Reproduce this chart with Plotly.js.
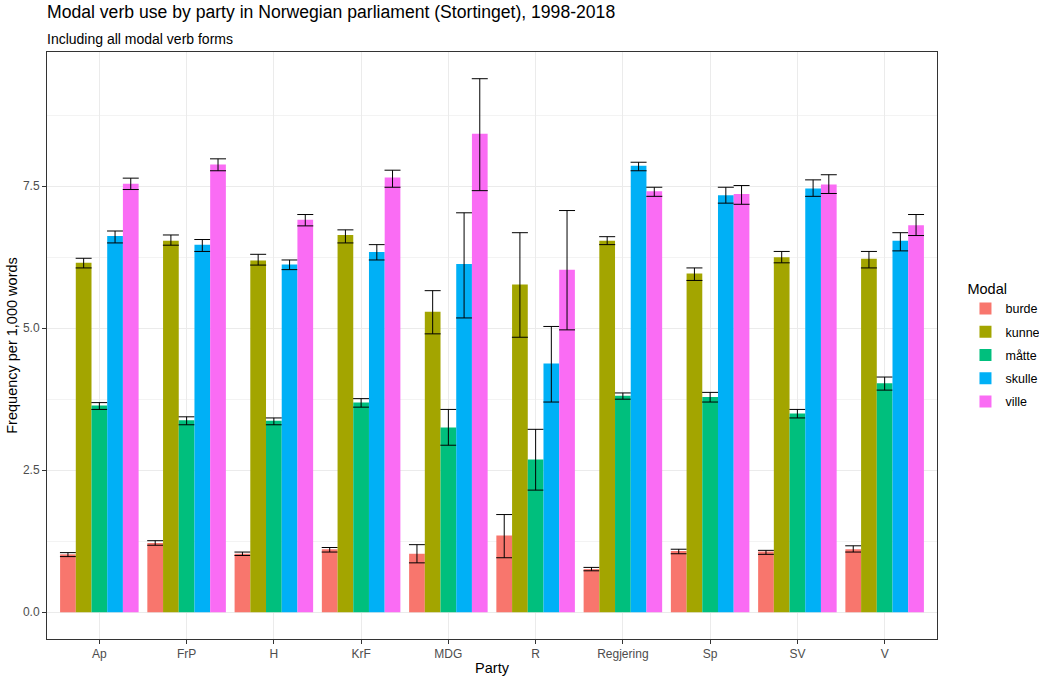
<!DOCTYPE html>
<html>
<head>
<meta charset="utf-8">
<script src="https://cdn.plot.ly/plotly-3.0.1.min.js"></script>
<style>html,body{margin:0;padding:0;background:#fff;}#chart{width:1039px;height:676px;}</style>
</head>
<body>
<div id="chart"></div>
<script>
// Data
const parties = ["Ap", "FrP", "H", "KrF", "MDG", "R", "Regjering", "Sp", "SV", "V"];
const modals = ["burde", "kunne", "måtte", "skulle", "ville"];
const colors = ["#F8766D", "#A3A500", "#00BF7D", "#00B0F6", "#FA6CF4"];

// frequency per 1,000 words
const burde  = [1.02, 1.22, 1.03, 1.11, 1.03, 1.35, 0.76, 1.08, 1.07, 1.11];
const kunne  = [6.15, 6.54, 6.19, 6.64, 5.29, 5.77, 6.54, 5.96, 6.25, 6.22];
const matte  = [3.64, 3.38, 3.37, 3.69, 3.25, 2.69, 3.81, 3.79, 3.50, 4.03];
const skulle = [6.62, 6.47, 6.12, 6.34, 6.13, 4.38, 7.86, 7.34, 7.46, 6.54];
const ville  = [7.54, 7.88, 6.91, 7.65, 8.42, 6.03, 7.41, 7.36, 7.53, 6.81];

// error bar upper / lower limits
const burdeHi  = [1.05, 1.26, 1.06, 1.14, 1.19, 1.72, 0.79, 1.11, 1.09, 1.17];
const burdeLo  = [0.98, 1.18, 1.00, 1.06, 0.87, 0.96, 0.73, 1.03, 1.02, 1.06];
const kunneHi  = [6.23, 6.64, 6.30, 6.73, 5.66, 6.68, 6.61, 6.06, 6.35, 6.35];
const kunneLo  = [6.06, 6.46, 6.11, 6.50, 4.90, 4.84, 6.47, 5.84, 6.15, 6.06];
const matteHi  = [3.69, 3.44, 3.42, 3.76, 3.57, 3.22, 3.86, 3.87, 3.57, 4.14];
const matteLo  = [3.57, 3.30, 3.30, 3.61, 2.94, 2.15, 3.75, 3.70, 3.42, 3.91];
const skulleHi = [6.71, 6.56, 6.20, 6.47, 7.03, 5.03, 7.92, 7.48, 7.61, 6.68];
const skulleLo = [6.50, 6.35, 6.03, 6.20, 5.18, 3.70, 7.77, 7.20, 7.32, 6.36];
const villeHi  = [7.64, 7.98, 7.00, 7.78, 9.39, 7.07, 7.48, 7.51, 7.70, 7.00];
const villeLo  = [7.44, 7.77, 6.80, 7.48, 7.42, 4.97, 7.32, 7.18, 7.37, 6.63];

const yTickVals = [0, 2.5, 5, 7.5];

const series = [
  [burde, burdeHi, burdeLo],
  [kunne, kunneHi, kunneLo],
  [matte, matteHi, matteLo],
  [skulle, skulleHi, skulleLo],
  [ville, villeHi, villeLo]
];

const font = "Liberation Sans, Arial, sans-serif";

const traces = series.map(function (s, i) {
  const vals = s[0], hi = s[1], lo = s[2];
  return {
    type: "bar",
    name: modals[i],
    legendgroup: modals[i],
    x: parties,
    y: vals,
    marker: {color: colors[i], line: {width: 0}},
    error_y: {
      type: "data",
      symmetric: false,
      array: hi.map(function (h, k) { return h - vals[k]; }),
      arrayminus: lo.map(function (l, k) { return vals[k] - l; }),
      color: "#000000",
      thickness: 1,
      width: 8
    }
  };
});

const layout = {
  width: 1039,
  height: 676,
  margin: {l: 47, r: 102, t: 52, b: 37, autoexpand: false},
  paper_bgcolor: "#ffffff",
  plot_bgcolor: "#ffffff",
  font: {family: font, color: "#000000"},
  barmode: "group",
  bargap: 0.1,
  bargroupgap: 0,
  title: {
    text: "Modal verb use by party in Norwegian parliament (Stortinget), 1998-2018",
    font: {family: font, size: 17.6, color: "#000000"},
    x: 0, xref: "paper", xanchor: "left",
    y: 1, yref: "container", yanchor: "top",
    pad: {t: 6, l: 0}
  },
  annotations: [
    {
      text: "Including all modal verb forms",
      xref: "paper", yref: "paper", x: 0, y: 1.0, xanchor: "left", yanchor: "bottom",
      xshift: -2, yshift: 3, showarrow: false,
      font: {family: font, size: 14, color: "#000000"}
    }
  ],
  xaxis: {
    type: "category",
    range: [-0.6, 9.6],
    showgrid: true,
    gridcolor: "#ebebeb",
    gridwidth: 1,
    showline: true,
    mirror: true,
    linecolor: "#333333",
    linewidth: 1,
    ticks: "outside",
    ticklen: 4,
    tickcolor: "#333333",
    tickfont: {family: font, size: 12, color: "#4d4d4d"},
    title: {text: "Party", font: {family: font, size: 14.5, color: "#000000"}, standoff: 4},
    zeroline: false,
    automargin: false,
    fixedrange: true
  },
  yaxis: {
    range: [-0.47, 9.86],
    tickvals: yTickVals,
    ticktext: yTickVals.map(function (v) { return v.toFixed(1); }),
    showgrid: true,
    gridcolor: "#ebebeb",
    gridwidth: 1,
    minor: {tick0: 0, dtick: 1.25, showgrid: true, gridcolor: "#f3f3f3", gridwidth: 1, ticks: ""},
    showline: true,
    mirror: true,
    linecolor: "#333333",
    linewidth: 1,
    ticks: "outside",
    ticklen: 4,
    tickcolor: "#333333",
    tickfont: {family: font, size: 12, color: "#4d4d4d"},
    title: {text: "Frequency per 1,000 words", font: {family: font, size: 14.5, color: "#000000"}, standoff: 1},
    zeroline: false,
    automargin: false,
    fixedrange: true
  },
  legend: {
    title: {text: "Modal", font: {family: font, size: 14.5, color: "#000000"}},
    font: {family: font, size: 12.5, color: "#000000"},
    x: 1.032, xanchor: "left",
    y: 0.62, yanchor: "top",
    tracegroupgap: 4,
    traceorder: "grouped",
    bgcolor: "rgba(0,0,0,0)"
  },
  showlegend: true
};

Plotly.newPlot("chart", traces, layout, {displayModeBar: false, staticPlot: true});
</script>
</body>
</html>
